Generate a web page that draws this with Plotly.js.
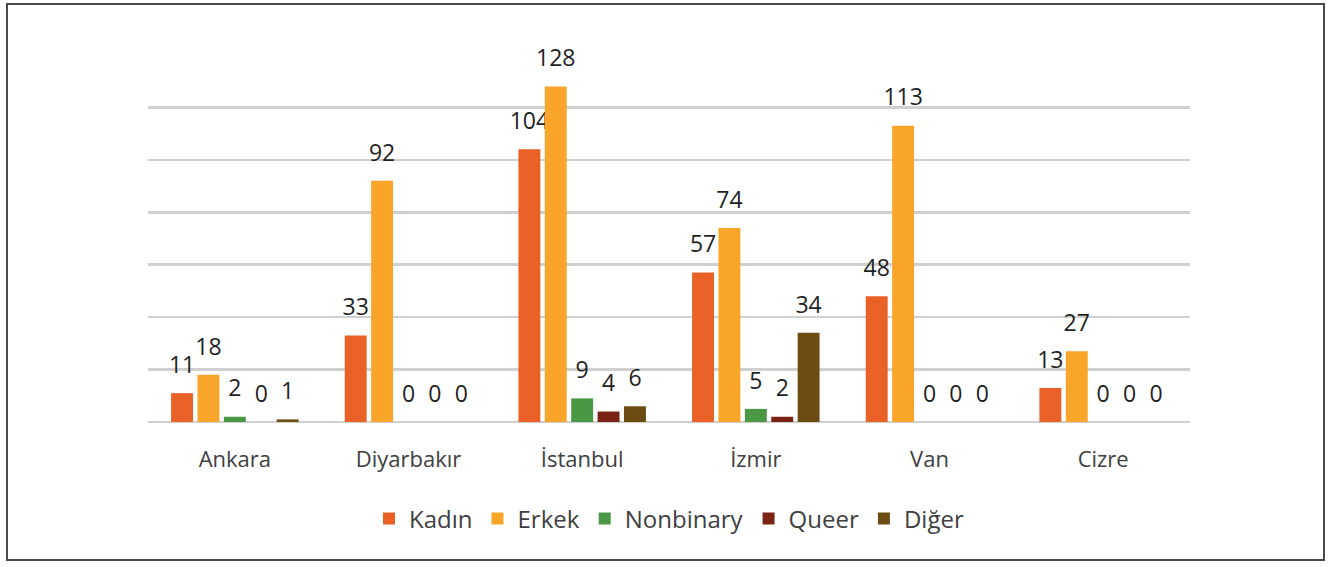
<!DOCTYPE html>
<html>
<head>
<meta charset="utf-8">
<script src="https://cdn.plot.ly/plotly-3.0.1.min.js"></script>
<style>
html,body{margin:0;padding:0;background:#fff;}
#wrap{position:relative;width:1330px;height:567px;}
#chart{width:1330px;height:567px;}
#frame{position:absolute;left:6px;top:3px;width:1319px;height:558px;border:2px solid #4a4a4a;pointer-events:none;box-sizing:border-box;}
</style>
</head>
<body>
<div id="wrap"><div id="chart"></div><div id="frame"></div></div>
<script>
const categories = ["Ankara", "Diyarbakır", "İstanbul", "İzmir", "Van", "Cizre"];
const seriesNames = ["Kadın", "Erkek", "Nonbinary", "Queer", "Diğer"];
const kadin     = [11, 33, 104, 57, 48, 13];
const erkek     = [18, 92, 128, 74, 113, 27];
const nonbinary = [2, 0, 9, 5, 0, 0];
const queer     = [0, 0, 4, 2, 0, 0];
const diger     = [1, 0, 6, 34, 0, 0];
const colors = ["#E96127", "#F9A52A", "#4A9844", "#7A2314", "#6D4C14"];

const FONT = "Open Sans, sans-serif";
const values = [kadin, erkek, nonbinary, queer, diger];
const traces = values.map((v, i) => ({
  type: "bar",
  name: seriesNames[i],
  x: categories,
  y: v,
  marker: {color: colors[i]},
  text: v.map(String),
  texttemplate: '<span style="font-size:23px">%{text}</span><br>&nbsp;',
  textposition: "outside",
  constraintext: "none",
  cliponaxis: false,
  textfont: {family: FONT, size: 11, color: "#1f1f1f"},
  hoverinfo: "x+y+name"
}));

const layout = {
  width: 1330, height: 567,
  margin: {l: 148, r: 140, t: 55, b: 145},
  paper_bgcolor: "#ffffff",
  plot_bgcolor: "#ffffff",
  barmode: "group",
  bargap: 0.24,
  bargroupgap: 0.17,
  font: {family: FONT, color: "#404040"},
  showlegend: true,
  legend: {
    orientation: "h", x: 0.5, xanchor: "center", y: -0.264, yanchor: "middle",
    font: {family: FONT, size: 24, color: "#404040"},
    traceorder: "normal"
  },
  xaxis: {
    type: "category",
    showline: false, ticks: "", showgrid: false,
    tickfont: {family: FONT, size: 22, color: "#404040"},
    ticklabelstandoff: 22
  },
  yaxis: {
    range: [0, 140], dtick: 20, tick0: 0,
    showticklabels: false, ticks: "",
    showgrid: true, gridcolor: "#d0d0d0", gridwidth: 2.5,
    zeroline: true, zerolinecolor: "#d0d0d0", zerolinewidth: 2.5,
    showline: false
  }
};

Plotly.newPlot("chart", traces, layout, {displayModeBar: false, staticPlot: true});
</script>
</body>
</html>
